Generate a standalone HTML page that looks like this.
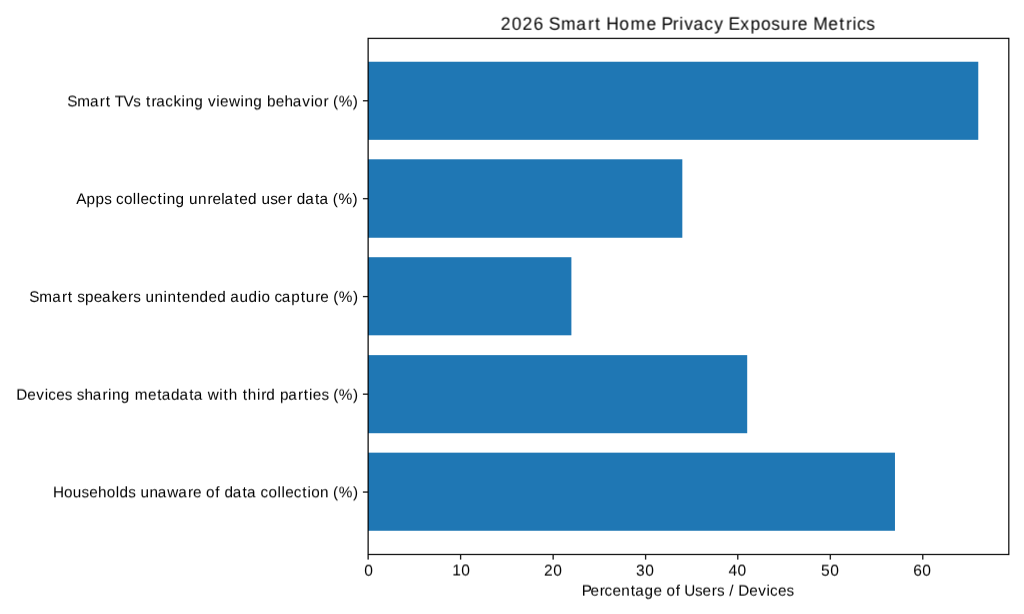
<!DOCTYPE html>
<html><head><meta charset="utf-8"><title>2026 Smart Home Privacy Exposure Metrics</title><style>
html,body{margin:0;padding:0;background:#fff;}
body{width:1024px;height:614px;overflow:hidden;}
svg{display:block;}
.t{will-change:transform;}
text{font-family:"Liberation Sans", sans-serif;fill:#000;text-rendering:geometricPrecision;}
</style></head><body>
<svg width="1024" height="614" viewBox="0 0 1024 614">
<rect width="1024" height="614" fill="#fff"/>
<rect x="368" y="61.74" width="610.27" height="78.09" fill="#1f77b4"/>
<rect x="368" y="159.3" width="314.33" height="78.45" fill="#1f77b4"/>
<rect x="368" y="257.21" width="203.39" height="78.10" fill="#1f77b4"/>
<rect x="368" y="355.13" width="379.20" height="78.09" fill="#1f77b4"/>
<rect x="368" y="452.66" width="526.97" height="78.10" fill="#1f77b4"/>
<g shape-rendering="crispEdges" fill="#000"><rect x="367" y="37" width="1" height="1" fill="rgb(223,223,223)"/><rect x="368" y="37" width="1" height="1" fill="rgb(190,190,190)"/><rect x="367" y="38" width="1" height="1" fill="rgb(131,131,131)"/><rect x="368" y="38" width="1" height="1" fill="rgb(7,7,7)"/><rect x="367" y="39" width="1" height="515" fill="rgb(134,134,134)"/><rect x="368" y="39" width="1" height="515" fill-opacity="0.73"/><rect x="367" y="554" width="1" height="1" fill="rgb(126,126,126)"/><rect x="368" y="554" width="1" height="1" fill="rgb(6,6,6)"/><rect x="367" y="555" width="1" height="4" fill="rgb(132,132,132)"/><rect x="368" y="555" width="1" height="4" fill="rgb(65,65,65)"/><rect x="367" y="559" width="1" height="1" fill="rgb(184,184,184)"/><rect x="368" y="559" width="1" height="1" fill="rgb(146,146,146)"/><rect x="369" y="37" width="639" height="1" fill="rgb(195,195,195)"/><rect x="369" y="38" width="639" height="1" fill="rgb(31,31,31)"/><rect x="369" y="39" width="639" height="1" fill="rgb(240,240,240)"/><rect x="1008" y="37" width="1" height="1" fill="rgb(189,189,189)"/><rect x="1009" y="37" width="1" height="1" fill="rgb(227,227,227)"/><rect x="1008" y="38" width="1" height="1" fill="rgb(5,5,5)"/><rect x="1009" y="38" width="1" height="1" fill="rgb(146,146,146)"/><rect x="1008" y="39" width="1" height="1" fill="rgb(53,53,53)"/><rect x="1009" y="39" width="1" height="1" fill="rgb(149,149,149)"/><rect x="1008" y="40" width="1" height="513" fill="rgb(57,57,57)"/><rect x="1009" y="40" width="1" height="513" fill="rgb(150,150,150)"/><rect x="1008" y="553" width="1" height="1" fill="rgb(46,46,46)"/><rect x="1009" y="553" width="1" height="1" fill="rgb(148,148,148)"/><rect x="1008" y="554" width="1" height="1" fill="rgb(14,14,14)"/><rect x="1009" y="554" width="1" height="1" fill="rgb(151,151,151)"/><rect x="1008" y="555" width="1" height="1" fill="rgb(218,218,218)"/><rect x="1009" y="555" width="1" height="1" fill="rgb(239,239,239)"/><rect x="369" y="553" width="639" height="1" fill="rgb(216,216,216)"/><rect x="369" y="554" width="639" height="1" fill="rgb(25,25,25)"/><rect x="369" y="555" width="639" height="1" fill="rgb(224,224,224)"/><rect x="362" y="100" width="1" height="1" fill="rgb(237,237,237)"/><rect x="363" y="100" width="3" height="1" fill="rgb(54,54,54)"/><rect x="366" y="100" width="1" height="1" fill="rgb(56,56,56)"/><rect x="367" y="100" width="1" height="1" fill="rgb(30,30,30)"/><rect x="362" y="101" width="1" height="1" fill="rgb(246,246,246)"/><rect x="363" y="101" width="3" height="1" fill="rgb(153,153,153)"/><rect x="366" y="101" width="1" height="1" fill="rgb(156,156,156)"/><rect x="367" y="101" width="1" height="1" fill="rgb(83,83,83)"/><rect x="362" y="197" width="1" height="1" fill="rgb(254,254,254)"/><rect x="363" y="197" width="3" height="1" fill="rgb(248,248,248)"/><rect x="366" y="197" width="1" height="1" fill="rgb(250,250,250)"/><rect x="367" y="197" width="1" height="1" fill="rgb(136,136,136)"/><rect x="362" y="198" width="1" height="1" fill="rgb(235,235,235)"/><rect x="363" y="198" width="3" height="1" fill="rgb(38,38,38)"/><rect x="366" y="198" width="1" height="1" fill="rgb(40,40,40)"/><rect x="367" y="198" width="1" height="1" fill="rgb(21,21,21)"/><rect x="362" y="199" width="1" height="1" fill="rgb(248,248,248)"/><rect x="363" y="199" width="3" height="1" fill="rgb(178,178,178)"/><rect x="366" y="199" width="1" height="1" fill="rgb(181,181,181)"/><rect x="367" y="199" width="1" height="1" fill="rgb(97,97,97)"/><rect x="362" y="295" width="1" height="1" fill="rgb(253,253,253)"/><rect x="363" y="295" width="3" height="1" fill="rgb(235,235,235)"/><rect x="366" y="295" width="1" height="1" fill="rgb(237,237,237)"/><rect x="367" y="295" width="1" height="1" fill="rgb(129,129,129)"/><rect x="362" y="296" width="1" height="1" fill="rgb(235,235,235)"/><rect x="363" y="296" width="3" height="1" fill="rgb(28,28,28)"/><rect x="366" y="296" width="1" height="1" fill="rgb(30,30,30)"/><rect x="367" y="296" width="1" height="1" fill="rgb(15,15,15)"/><rect x="362" y="297" width="1" height="1" fill="rgb(250,250,250)"/><rect x="363" y="297" width="3" height="1" fill="rgb(201,201,201)"/><rect x="366" y="297" width="1" height="1" fill="rgb(204,204,204)"/><rect x="367" y="297" width="1" height="1" fill="rgb(110,110,110)"/><rect x="362" y="393" width="1" height="1" fill="rgb(245,245,245)"/><rect x="363" y="393" width="3" height="1" fill="rgb(141,141,141)"/><rect x="366" y="393" width="1" height="1" fill="rgb(144,144,144)"/><rect x="367" y="393" width="1" height="1" fill="rgb(77,77,77)"/><rect x="362" y="394" width="1" height="1" fill="rgb(238,238,238)"/><rect x="363" y="394" width="3" height="1" fill="rgb(64,64,64)"/><rect x="366" y="394" width="1" height="1" fill="rgb(66,66,66)"/><rect x="367" y="394" width="1" height="1" fill="rgb(35,35,35)"/><rect x="362" y="491" width="1" height="1" fill="rgb(242,242,242)"/><rect x="363" y="491" width="3" height="1" fill="rgb(114,114,114)"/><rect x="366" y="491" width="1" height="1" fill="rgb(117,117,117)"/><rect x="367" y="491" width="1" height="1" fill="rgb(62,62,62)"/><rect x="362" y="492" width="1" height="1" fill="rgb(240,240,240)"/><rect x="363" y="492" width="3" height="1" fill="rgb(87,87,87)"/><rect x="366" y="492" width="1" height="1" fill="rgb(89,89,89)"/><rect x="367" y="492" width="1" height="1" fill="rgb(48,48,48)"/><rect x="459" y="555" width="1" height="1" fill="rgb(211,211,211)"/><rect x="459" y="556" width="1" height="3" fill="rgb(240,240,240)"/><rect x="459" y="559" width="1" height="1" fill="rgb(246,246,246)"/><rect x="460" y="555" width="1" height="1" fill="rgb(25,25,25)"/><rect x="460" y="556" width="1" height="3" fill="rgb(28,28,28)"/><rect x="460" y="559" width="1" height="1" fill="rgb(123,123,123)"/><rect x="461" y="555" width="1" height="1" fill="rgb(170,170,170)"/><rect x="461" y="556" width="1" height="3" fill="rgb(194,194,194)"/><rect x="461" y="559" width="1" height="1" fill="rgb(219,219,219)"/><rect x="552" y="555" width="1" height="1" fill="rgb(118,118,118)"/><rect x="552" y="556" width="1" height="3" fill="rgb(134,134,134)"/><rect x="552" y="559" width="1" height="1" fill="rgb(185,185,185)"/><rect x="553" y="555" width="1" height="1" fill="rgb(59,59,59)"/><rect x="553" y="556" width="1" height="3" fill="rgb(67,67,67)"/><rect x="553" y="559" width="1" height="1" fill="rgb(145,145,145)"/><rect x="644" y="555" width="1" height="1" fill="rgb(211,211,211)"/><rect x="644" y="556" width="1" height="3" fill="rgb(240,240,240)"/><rect x="644" y="559" width="1" height="1" fill="rgb(246,246,246)"/><rect x="645" y="555" width="1" height="1" fill="rgb(25,25,25)"/><rect x="645" y="556" width="1" height="3" fill="rgb(28,28,28)"/><rect x="645" y="559" width="1" height="1" fill="rgb(123,123,123)"/><rect x="646" y="555" width="1" height="1" fill="rgb(170,170,170)"/><rect x="646" y="556" width="1" height="3" fill="rgb(194,194,194)"/><rect x="646" y="559" width="1" height="1" fill="rgb(219,219,219)"/><rect x="737" y="555" width="1" height="1" fill="rgb(45,45,45)"/><rect x="737" y="556" width="1" height="3" fill="rgb(51,51,51)"/><rect x="737" y="559" width="1" height="1" fill="rgb(136,136,136)"/><rect x="738" y="555" width="1" height="1" fill="rgb(136,136,136)"/><rect x="738" y="556" width="1" height="3" fill="rgb(154,154,154)"/><rect x="738" y="559" width="1" height="1" fill="rgb(196,196,196)"/><rect x="829" y="555" width="1" height="1" fill="rgb(154,154,154)"/><rect x="829" y="556" width="1" height="3" fill="rgb(176,176,176)"/><rect x="829" y="559" width="1" height="1" fill="rgb(208,208,208)"/><rect x="830" y="555" width="1" height="1" fill="rgb(33,33,33)"/><rect x="830" y="556" width="1" height="3" fill="rgb(38,38,38)"/><rect x="830" y="559" width="1" height="1" fill="rgb(129,129,129)"/><rect x="831" y="555" width="1" height="1" fill="rgb(219,219,219)"/><rect x="831" y="556" width="1" height="3" fill="rgb(250,250,250)"/><rect x="831" y="559" width="1" height="1" fill="rgb(251,251,251)"/><rect x="922" y="555" width="1" height="1" fill="rgb(46,46,46)"/><rect x="922" y="556" width="1" height="3" fill="rgb(52,52,52)"/><rect x="922" y="559" width="1" height="1" fill="rgb(137,137,137)"/><rect x="923" y="555" width="1" height="1" fill="rgb(135,135,135)"/><rect x="923" y="556" width="1" height="3" fill="rgb(153,153,153)"/><rect x="923" y="559" width="1" height="1" fill="rgb(196,196,196)"/></g>
<g class="t">
<g style="will-change:transform;transform:translateY(-0.25px) scale(0.9700,1) rotate(0.001deg)"><text x="516.27 527.68 538.62 550.03 560.91 565.87 578.46 594.18 606.18 613.34 619.62 625.01 638.49 649.96 666.40 677.06 681.94 693.60 700.31 705.43 714.85 726.01 736.24 746.23 751.02 763.28 773.70 784.53 795.10 804.58 816.15 822.44 833.10 838.48 853.98 865.25 872.20 878.91 883.46 893.19" y="29.6" font-size="18.0">2026 Smart Home Privacy Exposure Metrics</text></g>
<g style="will-change:transform;transform:translateY(-0.36px) rotate(0.001deg)"><text x="581.70 590.47 599.68 604.46 612.49 621.35 630.68 635.16 644.47 653.44 662.15 666.61 675.75 680.32 684.36 695.04 702.59 711.81 716.97 724.52 729.16 733.80 738.13 749.23 758.18 766.48 770.04 778.07 786.62" y="595.6" font-size="15.3">Percentage of Users / Devices</text></g>
<g style="will-change:transform;transform:translateY(0.31px) rotate(0.001deg)"><text x="53.11 64.06 72.86 81.62 89.18 98.02 106.85 115.71 119.55 128.36 135.91 140.50 149.56 157.83 167.24 178.13 187.90 192.93 201.65 206.12 215.26 219.83 224.38 232.77 242.53 247.03 256.30 260.59 268.57 277.44 281.38 285.19 293.68 302.20 307.42 311.18 320.04 328.89 333.10 338.75 352.90" y="496.6" font-size="15.3">Households unaware of data collection (%)</text></g>
<g style="will-change:transform;transform:translateY(-0.29px) rotate(0.001deg)"><text x="16.26 27.37 36.34 44.64 48.21 56.25 64.81 72.36 76.72 84.39 92.68 102.46 107.94 111.88 120.77 129.74 134.70 148.09 157.30 161.80 171.11 179.50 189.27 193.77 203.04 207.70 219.31 223.59 228.79 237.66 242.66 247.86 256.88 261.18 266.30 275.27 279.99 288.22 298.00 303.82 309.04 312.85 321.41 328.96 333.18 338.82 352.97" y="399.6" font-size="15.3">Devices sharing metadata with third parties (%)</text></g>
<g style="will-change:transform;transform:translateY(-0.14px) rotate(0.001deg)"><text x="29.24 39.35 52.14 61.92 67.74 72.82 77.17 84.93 93.74 101.88 111.41 118.87 128.10 133.27 140.82 145.42 154.47 163.47 167.41 176.75 181.83 190.70 199.59 208.57 217.33 226.30 230.23 239.59 248.54 257.66 261.41 270.13 274.42 281.87 291.35 300.64 305.80 315.21 320.23 328.96 333.17 338.81 352.97" y="301.6" font-size="15.3">Smart speakers unintended audio capture (%)</text></g>
<g style="will-change:transform;transform:translateY(-0.06px) rotate(0.001deg)"><text x="76.32 86.59 95.57 104.20 111.73 116.00 123.96 132.81 136.74 140.54 149.01 157.50 162.72 166.63 175.50 184.45 189.02 198.05 207.39 212.39 221.23 224.44 234.18 239.25 247.98 256.93 261.51 270.24 277.78 286.98 292.30 296.83 305.19 314.93 319.41 328.67 332.87 338.49 352.61" y="203.6" font-size="15.3">Apps collecting unrelated user data (%)</text></g>
<g style="will-change:transform;transform:translateY(0.37px) rotate(0.001deg)"><text x="67.23 77.30 90.07 99.83 105.63 110.70 114.72 123.45 133.36 140.90 145.88 151.44 156.18 165.21 173.46 181.56 185.48 194.35 203.30 208.04 216.32 220.11 228.95 240.54 244.46 253.33 262.28 266.97 275.76 284.58 292.85 302.35 310.64 314.37 323.58 328.90 333.10 338.71 352.84" y="106" font-size="15.3">Smart TVs tracking viewing behavior (%)</text></g>
<g style="will-change:transform;transform:translateY(-0.34px) rotate(0.001deg)"><text x="364.24" y="575.6" font-size="15.6">0</text></g>
<g style="will-change:transform;transform:translateY(-0.55px) rotate(0.001deg)"><text x="452.24 461.37" y="575.6" font-size="15.6">10</text></g>
<g style="will-change:transform;transform:translateY(-0.41px) rotate(0.001deg)"><text x="543.96 553.19" y="575.6" font-size="15.6">20</text></g>
<g style="will-change:transform;transform:translateY(-0.39px) rotate(0.001deg)"><text x="636.12 645.15" y="575.6" font-size="15.6">30</text></g>
<g style="will-change:transform;transform:translateY(-0.44px) rotate(0.001deg)"><text x="728.49 737.54" y="575.6" font-size="15.6">40</text></g>
<g style="will-change:transform;transform:translateY(-0.39px) rotate(0.001deg)"><text x="821.03 830.13" y="575.6" font-size="15.6">50</text></g>
<g style="will-change:transform;transform:translateY(-0.39px) rotate(0.001deg)"><text x="913.19 922.24" y="575.6" font-size="15.6">60</text></g>
</g>
</svg>
</body></html>
